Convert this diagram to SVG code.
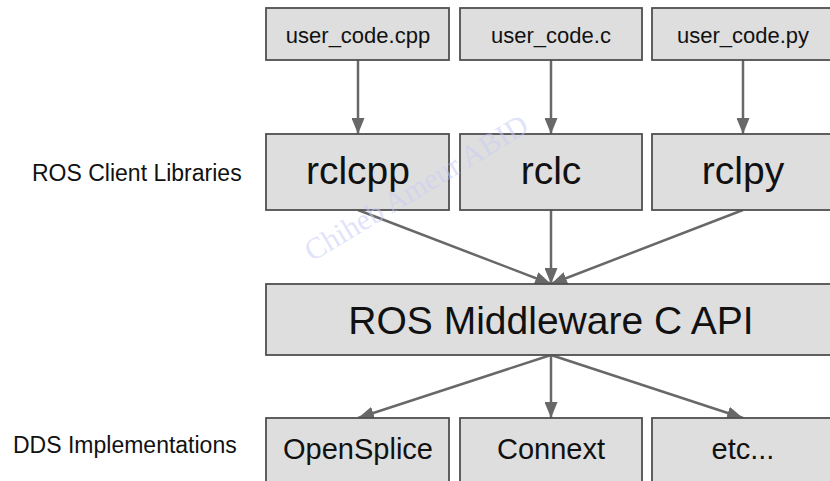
<svg xmlns="http://www.w3.org/2000/svg" width="830" height="481" viewBox="0 0 830 481">
<style>
.box{fill:#dedede;stroke:#4f4f4f;stroke-width:1.8}
.t{font-family:"Liberation Sans",Arial,sans-serif;fill:#111;text-anchor:middle}
.s{font-size:22px}
.l{font-size:39px}
.m{font-size:29px}
.lab{font-family:"Liberation Sans",Arial,sans-serif;fill:#111;font-size:23px}
.c{stroke:#686868;stroke-width:2.5;fill:none;marker-end:url(#ah)}
</style>
<defs>
<marker id="ah" viewBox="0 0 10 10" refX="10" refY="5" markerWidth="6.4" markerHeight="5.2" orient="auto" markerUnits="strokeWidth" preserveAspectRatio="none">
<path d="M0,0 L10,5 L0,10 z" fill="#686868"/>
</marker>
</defs>
<rect width="830" height="481" fill="#fff"/>
<g id="labels">
<text class="lab" x="32" y="181">ROS Client Libraries</text>
<text class="lab" x="13" y="453">DDS Implementations</text>
</g>
<g id="connectors">
<line class="c" x1="358" y1="60" x2="358" y2="134"/>
<line class="c" x1="551" y1="60" x2="551" y2="134"/>
<line class="c" x1="743" y1="60" x2="743" y2="134"/>
<line class="c" x1="358" y1="210" x2="551" y2="284"/>
<line class="c" x1="551" y1="210" x2="551" y2="284"/>
<line class="c" x1="743" y1="210" x2="551" y2="284"/>
<line class="c" x1="551" y1="355" x2="358" y2="418"/>
<line class="c" x1="551" y1="355" x2="551" y2="418"/>
<line class="c" x1="551" y1="355" x2="743" y2="418"/>
</g>
<g id="user_code_cpp"><rect class="box" x="266" y="8" width="183" height="52"/><text class="t s" x="358" y="43">user_code.cpp</text></g>
<g id="user_code_c"><rect class="box" x="460" y="8" width="182" height="52"/><text class="t s" x="551" y="43">user_code.c</text></g>
<g id="user_code_py"><rect class="box" x="652" y="8" width="182" height="52"/><text class="t s" x="743" y="43">user_code.py</text></g>
<g id="rclcpp"><rect class="box" x="266" y="134" width="183" height="76"/><text class="t l" x="358" y="184">rclcpp</text></g>
<g id="rclc"><rect class="box" x="460" y="134" width="182" height="76"/><text class="t l" x="551" y="184">rclc</text></g>
<g id="rclpy"><rect class="box" x="652" y="134" width="182" height="76"/><text class="t l" x="743" y="184">rclpy</text></g>
<g id="rmw"><rect class="box" x="266" y="284" width="568" height="71"/><text class="t l" x="551" y="334">ROS Middleware C API</text></g>
<g id="opensplice"><rect class="box" x="266" y="418" width="183" height="70"/><text class="t m" x="358" y="459">OpenSplice</text></g>
<g id="connext"><rect class="box" x="460" y="418" width="182" height="70"/><text class="t m" x="551" y="459">Connext</text></g>
<g id="etc"><rect class="box" x="652" y="418" width="182" height="70"/><text class="t m" x="743" y="459">etc...</text></g>
<g id="watermark"><text x="312" y="262" transform="rotate(-31 312 262)" font-family="'Liberation Serif',serif" font-size="30" fill="#c8ccf6" fill-opacity="0.55">Chiheb Ameur ABID</text></g>
</svg>
